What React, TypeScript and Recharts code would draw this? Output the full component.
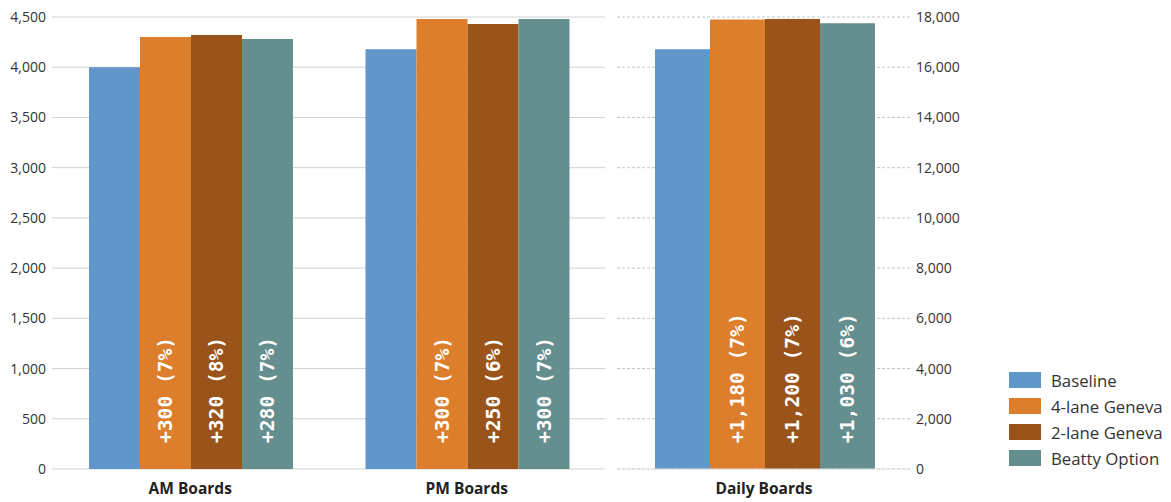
import React from "react";
import {
  BarChart,
  Bar,
  XAxis,
  YAxis,
  CartesianGrid,
  LabelList,
  ReferenceLine,
} from "recharts";

const peakCategories = ["AM Boards", "PM Boards"];
const peakBaseline = [4000, 4180];
const peakFourLane = [4300, 4480];
const peakTwoLane = [4320, 4430];
const peakBeatty = [4280, 4480];
const peakFourLaneLabels = ["+300 (7%)", "+300 (7%)"];
const peakTwoLaneLabels = ["+320 (8%)", "+250 (6%)"];
const peakBeattyLabels = ["+280 (7%)", "+300 (7%)"];
const peakTicks = [0, 500, 1000, 1500, 2000, 2500, 3000, 3500, 4000, 4500];

const dailyCategories = ["Daily Boards"];
const dailyBaseline = [16720];
const dailyFourLane = [17900];
const dailyTwoLane = [17920];
const dailyBeatty = [17750];
const dailyFourLaneLabels = ["+1,180 (7%)"];
const dailyTwoLaneLabels = ["+1,200 (7%)"];
const dailyBeattyLabels = ["+1,030 (6%)"];
const dailyTicks = [0, 2000, 4000, 6000, 8000, 10000, 12000, 14000, 16000, 18000];

const seriesNames = ["Baseline", "4-lane Geneva", "2-lane Geneva", "Beatty Option"];
const seriesColors = ["#6096c9", "#dc7e2b", "#9a541a", "#658e8e"];

const FONT = "'Open Sans', sans-serif";

const peakData = peakCategories.map((name, i) => ({
  name,
  baseline: peakBaseline[i],
  fourLane: peakFourLane[i],
  twoLane: peakTwoLane[i],
  beatty: peakBeatty[i],
  fourLaneLabel: peakFourLaneLabels[i],
  twoLaneLabel: peakTwoLaneLabels[i],
  beattyLabel: peakBeattyLabels[i],
}));

const dailyData = dailyCategories.map((name, i) => ({
  name,
  baseline: dailyBaseline[i],
  fourLane: dailyFourLane[i],
  twoLane: dailyTwoLane[i],
  beatty: dailyBeatty[i],
  fourLaneLabel: dailyFourLaneLabels[i],
  twoLaneLabel: dailyTwoLaneLabels[i],
  beattyLabel: dailyBeattyLabels[i],
}));

const fmt = (v: number) => v.toLocaleString("en-US");

// rotated white label sitting near the bottom of each bar
const BarLabel = (props: any) => {
  const { x, y, width, height, value } = props;
  const cx = x + width / 2;
  const by = y + height - 26;
  return (
    <text
      x={cx}
      y={by}
      transform={`rotate(-90, ${cx}, ${by})`}
      textAnchor="start"
      dominantBaseline="central"
      fill="#ffffff"
      fontFamily="'DejaVu Sans Mono', monospace"
      fontWeight="bold"
      fontSize={19.6}
    >
      {value}
    </text>
  );
};

const tickStyle = { fill: "#333", fontSize: 14, fontFamily: FONT };
const catStyle = { fill: "#222", fontSize: 15.5, fontFamily: FONT, fontWeight: 700 };

const renderBars = () => [
  <Bar key="b" dataKey="baseline" fill={seriesColors[0]} isAnimationActive={false} />,
  <Bar key="f" dataKey="fourLane" fill={seriesColors[1]} isAnimationActive={false}>
    <LabelList dataKey="fourLaneLabel" content={BarLabel} />
  </Bar>,
  <Bar key="t" dataKey="twoLane" fill={seriesColors[2]} isAnimationActive={false}>
    <LabelList dataKey="twoLaneLabel" content={BarLabel} />
  </Bar>,
  <Bar key="y" dataKey="beatty" fill={seriesColors[3]} isAnimationActive={false}>
    <LabelList dataKey="beattyLabel" content={BarLabel} />
  </Bar>,
];

export default function App() {
  return (
    <div
      style={{
        position: "fixed",
        left: 0,
        top: 0,
        width: 1171,
        height: 502,
        background: "#fff",
        fontFamily: FONT,
      }}
    >
      <div style={{ position: "absolute", left: 0, top: 0 }}>
        <BarChart
          width={611}
          height={502}
          data={peakData}
          margin={{ top: 17, right: 6, bottom: 0, left: 0 }}
          barGap={0}
          barCategoryGap={37}
        >
          <CartesianGrid vertical={false} stroke="#d0d0d0" />
          <XAxis
            dataKey="name"
            axisLine={false}
            tickLine={false}
            tickSize={0}
            tickMargin={14}
            height={33}
            tick={catStyle}
          />
          <YAxis
            domain={[0, 4500]}
            ticks={peakTicks}
            interval={0}
            width={52}
            axisLine={false}
            tickLine={false}
            tickSize={0}
            tickMargin={6}
            tickFormatter={fmt}
            tick={tickStyle}
          />
          {renderBars()}
        </BarChart>
      </div>
      <div style={{ position: "absolute", left: 612, top: 0 }}>
        <BarChart
          width={366}
          height={502}
          data={dailyData}
          margin={{ top: 17, right: 7, bottom: 0, left: 5 }}
          barGap={0}
          barCategoryGap={38}
        >
          <CartesianGrid vertical={false} stroke="#c4c4c4" strokeDasharray="3 2" />
          <ReferenceLine y={0} stroke="#e2e2e2" />
          <XAxis
            dataKey="name"
            axisLine={false}
            tickLine={false}
            tickSize={0}
            tickMargin={14}
            height={33}
            tick={catStyle}
          />
          <YAxis
            orientation="right"
            domain={[0, 18000]}
            ticks={dailyTicks}
            interval={0}
            width={60}
            axisLine={false}
            tickLine={false}
            tickSize={0}
            tickMargin={5}
            tickFormatter={fmt}
            tick={tickStyle}
          />
          {renderBars()}
        </BarChart>
      </div>
      <div style={{ position: "absolute", left: 1009, top: 367 }}>
        {seriesNames.map((name, i) => (
          <div
            key={name}
            style={{ display: "flex", alignItems: "center", height: 26 }}
          >
            <div
              style={{
                width: 32,
                height: 16,
                background: seriesColors[i],
                marginRight: 10,
              }}
            />
            <span style={{ fontSize: 16.8, color: "#333", whiteSpace: "nowrap" }}>
              {name}
            </span>
          </div>
        ))}
      </div>
    </div>
  );
}
